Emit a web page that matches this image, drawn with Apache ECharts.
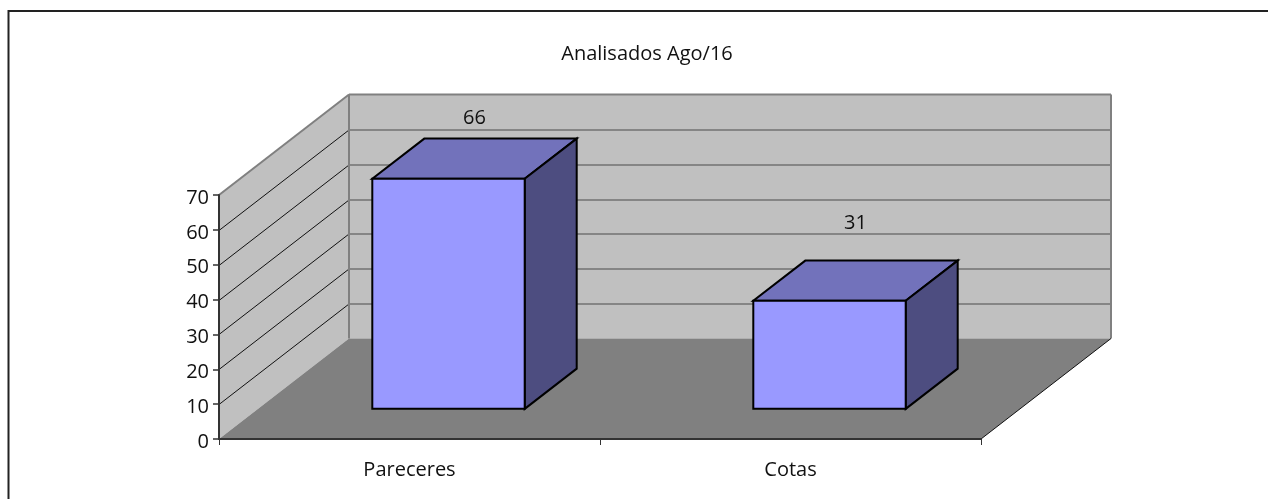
<!DOCTYPE html>
<html>
<head>
<meta charset="utf-8">
<title>Analisados Ago/16</title>
<style>
  html, body { margin: 0; padding: 0; background: #fff; }
  #chart { width: 1268px; height: 499px; }
</style>
<script src="https://cdn.jsdelivr.net/npm/echarts@6/dist/echarts.min.js"></script>
</head>
<body>
<div id="chart"></div>
<script>
const categories = ['Pareceres', 'Cotas'];
const values = [66, 31];
const yTicks = [0, 10, 20, 30, 40, 50, 60, 70];
const chartTitle = 'Analisados Ago/16';

// oblique projection of the 3d box, in pixels
const DEPTH_X = 130;
const DEPTH_Y = -100.5;
const BAR_WIDTH = 0.4;    // of a category band
const BAR_START = 0.3;    // of the depth
const BAR_DEPTH = 0.4;    // of the depth
const LABEL_LIFT = [20, 37];
const FONT = '"Open Sans", sans-serif';
const FONT_SIZE = 20;

const chart = echarts.init(document.getElementById('chart'));

const poly = (points, fill, stroke, lineWidth) => ({
  type: 'polygon',
  shape: { points },
  style: { fill, stroke: stroke || 'none', lineWidth: lineWidth || 0 }
});

const seg = (a, b, stroke, lineWidth) => ({
  type: 'line',
  shape: { x1: a[0], y1: a[1], x2: b[0], y2: b[1] },
  style: { stroke, lineWidth }
});

const renderWalls = (params, api) => {
  const band = api.size([1, 0])[0];
  const left = api.coord([0, 0])[0] - band / 2;
  const right = api.coord([categories.length - 1, 0])[0] + band / 2;
  const bottom = api.coord([0, 0])[1];
  const top = api.coord([0, yTicks[yTicks.length - 1]])[1];
  const backL = left + DEPTH_X;
  const backR = right + DEPTH_X;
  const backB = bottom + DEPTH_Y;
  const backT = top + DEPTH_Y;

  const children = [
    poly([[backL, backT], [backR, backT], [backR, backB], [backL, backB]], '#c0c0c0'),
    poly([[left, top], [backL, backT], [backL, backB], [left, bottom]], '#c0c0c0'),
    poly([[left, bottom], [backL, backB], [backR, backB], [right, bottom]], '#808080')
  ];
  yTicks.slice(1, -1).forEach((t) => {
    const y = Math.round(api.coord([0, t])[1]) + 0.5;
    children.push(seg([left, y], [backL, y + DEPTH_Y], '#111111', 1));
    children.push(seg([backL, y + DEPTH_Y], [backR, y + DEPTH_Y], '#4a4a4a', 1.2));
  });
  children.push(seg([left, top], [backL, backT], '#808080', 2));
  children.push(seg([backL, backT], [backR, backT], '#808080', 2));
  children.push(seg([backL, backT], [backL, backB], '#808080', 2));
  children.push(seg([backR, backT], [backR, backB], '#808080', 2));
  children.push(seg([right, bottom], [backR, backB], '#111111', 1));
  return { type: 'group', children };
};

const renderBar = (params, api) => {
  const cat = api.value(0);
  const val = api.value(1);
  const band = api.size([1, 0])[0];
  const width = band * BAR_WIDTH;
  const centre = api.coord([cat, 0]);
  const x0 = centre[0] - width / 2 + DEPTH_X * BAR_START;
  const x1 = x0 + width;
  const y0 = centre[1] + DEPTH_Y * BAR_START;
  const y1 = y0 - (centre[1] - api.coord([cat, val])[1]);
  const dx = DEPTH_X * BAR_DEPTH;
  const dy = DEPTH_Y * BAR_DEPTH;

  return {
    type: 'group',
    children: [
      poly([[x0, y1], [x1, y1], [x1 + dx, y1 + dy], [x0 + dx, y1 + dy]], '#7272bb', '#000', 2),
      poly([[x1, y0], [x1, y1], [x1 + dx, y1 + dy], [x1 + dx, y0 + dy]], '#4d4d80', '#000', 2),
      poly([[x0, y0], [x1, y0], [x1, y1], [x0, y1]], '#9999ff', '#000', 2),
      {
        type: 'text',
        style: {
          text: String(val),
          x: (x0 + x1 + dx) / 2,
          y: y1 + dy - LABEL_LIFT[params.dataIndex],
          align: 'center',
          verticalAlign: 'middle',
          fill: '#111',
          font: FONT_SIZE + 'px ' + FONT
        }
      }
    ]
  };
};

const option = {
  animation: false,
  backgroundColor: '#fff',
  title: {
    text: chartTitle,
    left: 642,
    top: 39,
    textAlign: 'center',
    textStyle: { fontFamily: FONT, fontSize: FONT_SIZE, fontWeight: 'normal', color: '#111' }
  },
  grid: { left: 219, right: 287, top: 195, bottom: 60 },
  xAxis: {
    type: 'category',
    data: categories,
    z: 5,
    axisLine: { lineStyle: { color: '#333', width: 2 } },
    axisTick: { show: true, length: 6, lineStyle: { color: '#333' } },
    axisLabel: { margin: 21, fontFamily: FONT, fontSize: FONT_SIZE, color: '#111' }
  },
  yAxis: {
    type: 'value',
    min: 0,
    max: 70,
    interval: 10,
    z: 5,
    splitLine: { show: false },
    axisLine: { show: true, lineStyle: { color: '#333', width: 2 } },
    axisTick: { show: true, length: 6, lineStyle: { color: '#333', width: 1.5 } },
    axisLabel: { margin: 10, verticalAlign: 'top', lineHeight: 6, fontFamily: FONT, fontSize: FONT_SIZE, color: '#111' }
  },
  graphic: [{
    type: 'polyline',
    silent: true,
    shape: { points: [[8.5, 499], [8.5, 11], [1268, 11]] },
    style: { stroke: '#222', lineWidth: 2, fill: 'none' }
  }],
  series: [
    {
      type: 'custom',
      name: 'walls',
      silent: true,
      renderItem: renderWalls,
      data: [[0, 0]],
      z: 1
    },
    {
      type: 'custom',
      name: 'Analisados',
      renderItem: renderBar,
      data: categories.map((c, i) => [i, values[i]]),
      encode: { x: 0, y: 1 },
      z: 2
    }
  ]
};

chart.setOption(option);
window.addEventListener('resize', () => chart.resize());
</script>
</body>
</html>
